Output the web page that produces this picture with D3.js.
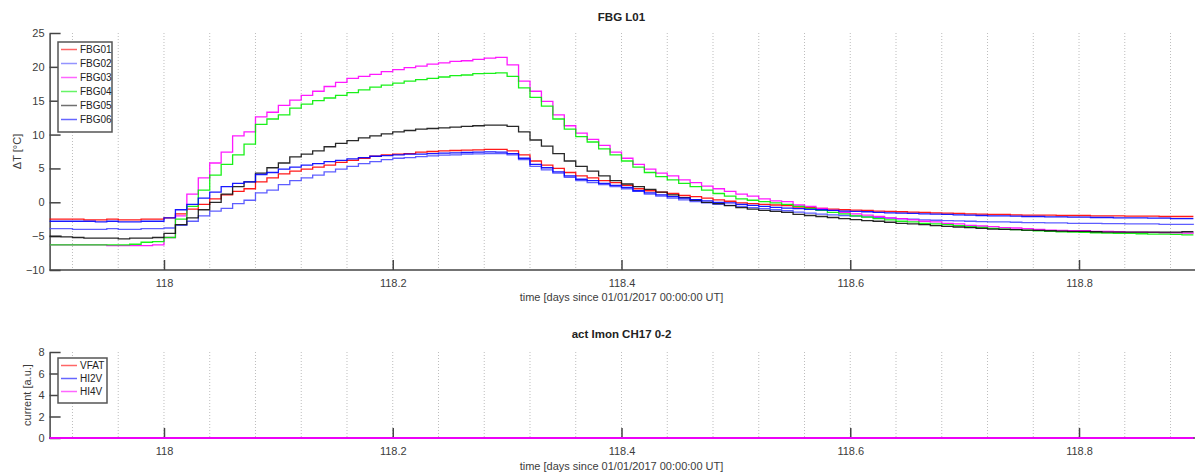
<!DOCTYPE html>
<html>
<head>
<meta charset="utf-8">
<script src="https://cdn.jsdelivr.net/npm/d3@7"></script>
<style>
  body { margin: 0; background: #fff; }
  svg { display: block; }
  text { font-family: "Liberation Sans", Arial, Helvetica, sans-serif; }
</style>
</head>
<body>
<svg id="chart" width="1195" height="474"></svg>
<script>
// ---------------- data ----------------
const tStart = 117.9, tStep = 0.01;           // sample times (days)
const seriesNames = ["FBG01", "FBG02", "FBG03", "FBG04", "FBG05", "FBG06"];
const seriesColors = ["#ff0000", "#4d4dff", "#ff00ff", "#00ee00", "#111111", "#0000ff"];

const FBG01 = [-2.5,-2.5,-2.5,-2.6,-2.6,-2.5,-2.6,-2.6,-2.5,-2.5,
  -2.3,-1.7,-1.0,-0.3,0.5,1.1,1.6,2.0,3.0,3.6,
  4.2,4.6,4.9,5.2,5.5,5.9,6.2,6.5,6.8,7.0,
  7.1,7.2,7.4,7.5,7.6,7.65,7.7,7.75,7.8,7.8,
  7.6,7.0,6.1,5.5,5.0,4.4,3.9,3.6,3.2,2.9,
  2.5,2.0,1.7,1.5,1.3,1.0,0.85,0.6,0.35,0.15,
  -0.1,-0.2,-0.3,-0.4,-0.5,-0.7,-0.8,-0.9,-1.0,-1.1,
  -1.15,-1.2,-1.3,-1.35,-1.4,-1.45,-1.5,-1.55,-1.6,-1.65,
  -1.7,-1.75,-1.8,-1.8,-1.85,-1.9,-1.9,-1.9,-1.95,-1.95,
  -1.95,-2.0,-2.0,-2.0,-2.05,-2.05,-2.05,-2.1,-2.1,-2.1,-2.1];

const FBG02 = [-3.9,-3.9,-4.0,-4.0,-4.0,-3.9,-4.0,-4.0,-3.9,-3.9,
  -3.8,-3.4,-2.8,-2.0,-1.3,-0.9,-0.2,0.3,1.4,1.8,
  2.6,3.2,3.6,4.0,4.5,4.9,5.3,5.7,6.0,6.3,
  6.5,6.6,6.75,6.85,6.95,7.0,7.1,7.15,7.2,7.2,
  7.0,6.3,5.3,4.8,4.3,3.7,3.2,2.9,2.6,2.3,
  2.0,1.6,1.2,0.9,0.6,0.35,0.1,-0.1,-0.3,-0.45,
  -0.6,-0.8,-0.95,-1.1,-1.25,-1.45,-1.6,-1.75,-1.85,-1.95,
  -2.05,-2.15,-2.25,-2.35,-2.45,-2.5,-2.6,-2.65,-2.7,-2.75,
  -2.8,-2.85,-2.9,-2.9,-2.95,-3.0,-3.0,-3.05,-3.05,-3.1,
  -3.1,-3.1,-3.15,-3.15,-3.2,-3.2,-3.2,-3.25,-3.25,-3.25,-3.3];

const FBG03 = [-6.3,-6.3,-6.3,-6.3,-6.3,-6.4,-6.4,-6.4,-6.4,-6.3,
  -5.2,-2.0,1.2,3.6,5.8,7.4,9.8,10.4,12.6,13.3,
  14.3,15.1,15.8,16.4,17.1,17.7,18.3,18.6,18.9,19.3,
  19.6,19.9,20.1,20.4,20.6,20.8,20.9,21.1,21.3,21.4,
  20.3,17.9,16.4,14.9,12.9,11.3,10.2,9.3,8.4,7.4,
  6.5,5.6,4.9,4.3,3.9,3.3,2.9,2.4,2.0,1.6,
  1.2,0.9,0.5,0.2,0.1,-0.4,-0.6,-0.9,-1.2,-1.5,
  -1.7,-1.9,-2.1,-2.3,-2.4,-2.6,-2.8,-2.9,-3.1,-3.2,
  -3.4,-3.5,-3.6,-3.75,-3.8,-3.9,-4.0,-4.1,-4.15,-4.2,
  -4.2,-4.3,-4.3,-4.35,-4.4,-4.4,-4.45,-4.5,-4.5,-4.55,-4.6];

const FBG04 = [-6.3,-6.3,-6.3,-6.3,-6.3,-6.3,-6.3,-6.2,-5.9,-5.8,
  -5.2,-2.5,-0.6,1.8,4.0,5.6,7.0,8.6,11.5,12.3,
  12.9,13.9,14.5,15.0,15.4,15.8,16.2,16.6,17.0,17.3,
  17.6,17.9,18.1,18.3,18.5,18.7,18.8,19.0,19.05,19.1,
  18.6,16.9,15.5,14.2,12.3,10.8,9.7,8.9,7.9,7.0,
  6.1,5.2,4.4,3.8,3.3,2.8,2.3,1.8,1.3,0.9,
  0.5,0.3,0.1,-0.1,-0.3,-0.6,-0.9,-1.2,-1.5,-1.7,
  -2.0,-2.2,-2.4,-2.6,-2.8,-2.9,-3.1,-3.2,-3.3,-3.45,
  -3.6,-3.7,-3.85,-3.95,-4.05,-4.15,-4.2,-4.3,-4.35,-4.4,
  -4.45,-4.5,-4.55,-4.6,-4.6,-4.65,-4.7,-4.7,-4.75,-4.8,-4.8];

const FBG05 = [-5.0,-5.1,-5.2,-5.3,-5.3,-5.3,-5.4,-5.3,-5.3,-5.2,
  -4.6,-3.3,-2.3,-1.1,0.0,1.2,2.3,3.0,4.3,5.1,
  5.8,6.7,7.1,7.6,8.2,8.7,9.1,9.5,9.8,10.1,
  10.4,10.6,10.8,10.9,11.0,11.1,11.2,11.3,11.4,11.4,
  11.2,10.4,9.2,8.3,7.2,6.1,5.3,4.6,3.9,3.2,
  2.7,2.3,1.9,1.5,1.1,0.7,0.3,0.0,-0.2,-0.5,
  -0.8,-1.0,-1.2,-1.35,-1.5,-1.8,-1.95,-2.1,-2.25,-2.4,
  -2.55,-2.7,-2.8,-2.95,-3.1,-3.2,-3.3,-3.45,-3.55,-3.65,
  -3.75,-3.85,-3.95,-4.0,-4.05,-4.1,-4.15,-4.2,-4.25,-4.3,
  -4.3,-4.35,-4.4,-4.4,-4.4,-4.4,-4.4,-4.4,-4.4,-4.35,-4.35];

const FBG06 = [-2.8,-2.8,-2.8,-2.8,-2.9,-2.8,-2.9,-2.9,-2.8,-2.8,
  -2.3,-1.1,-0.3,0.6,1.5,2.3,2.8,3.0,4.1,4.4,
  4.9,5.2,5.5,5.7,6.0,6.2,6.4,6.6,6.8,6.9,
  7.0,7.1,7.1,7.2,7.25,7.3,7.35,7.4,7.45,7.4,
  7.2,6.5,5.6,5.1,4.5,3.9,3.4,3.2,2.8,2.5,
  2.2,1.7,1.4,1.1,0.85,0.6,0.4,0.2,0.0,-0.1,
  -0.3,-0.45,-0.6,-0.75,-0.85,-0.95,-1.05,-1.1,-1.2,-1.3,
  -1.35,-1.4,-1.5,-1.55,-1.6,-1.65,-1.7,-1.75,-1.8,-1.85,
  -1.9,-1.95,-2.0,-2.0,-2.05,-2.1,-2.1,-2.15,-2.15,-2.2,
  -2.2,-2.25,-2.25,-2.3,-2.3,-2.3,-2.35,-2.35,-2.4,-2.4,-2.4];

const fbgValues = [FBG01, FBG02, FBG03, FBG04, FBG05, FBG06];

const currentNames = ["VFAT", "HI2V", "HI4V"];
const currentColors = ["#ff0000", "#0000ff", "#ff00ff"];
const currentTimes = [117.9, 118.9];
const VFAT = [0, 0];
const HI2V = [0, 0];
const HI4V = [0, 0];
const currentValues = [VFAT, HI2V, HI4V];

const xTicks = [118, 118.2, 118.4, 118.6, 118.8];
const xGrid = [117.92,117.96,118.0,118.04,118.08,118.12,118.16,118.2,118.24,118.28,118.32,118.36,118.4,118.44,118.48,118.52,118.56,118.6,118.64,118.68,118.72,118.76,118.8,118.84,118.88];
const yTicksTop = [-10, -5, 0, 5, 10, 15, 20, 25];
const yTicksBottom = [0, 2, 4, 6, 8];

// ---------------- drawing ----------------
const svg = d3.select("#chart");
const axisColor = "#444";
const labelColor = "#3c3c3c";

const x = d3.scaleLinear().domain([117.9, 118.9]).range([49.6, 1193.4]);

function panel(cfg) {
  const y = d3.scaleLinear().domain(cfg.yDomain).range([cfg.yBottom, cfg.yTop]);
  const g = svg.append("g");

  // grid
  g.selectAll("line.grid").data(xGrid).enter().append("line")
    .attr("x1", d => x(d)).attr("x2", d => x(d))
    .attr("y1", cfg.yTop).attr("y2", cfg.yBottom)
    .attr("stroke", "#bdbdbd").attr("stroke-width", 1)
    .attr("stroke-dasharray", "1,2");

  // x axis (ticks inside)
  const xAxis = d3.axisBottom(x).tickValues(xTicks).tickSizeInner(-10).tickSizeOuter(0)
    .tickPadding(9).tickFormat(d3.format("~g"));
  const gx = g.append("g").attr("transform", `translate(0,${cfg.yBottom})`).call(xAxis);
  gx.select(".domain").attr("stroke", axisColor).attr("stroke-width", 1.5)
    .attr("d", `M${x.range()[0]},0H1195`);
  gx.selectAll(".tick line").attr("stroke", axisColor).attr("stroke-width", 1.5);
  gx.selectAll(".tick text").attr("fill", labelColor).style("font-size", "11px")
    .style("font-family", "Liberation Sans, Arial, sans-serif");

  // y axis (ticks inside)
  const yAxis = d3.axisLeft(y).tickValues(cfg.yTicks).tickSizeInner(-11).tickSizeOuter(0)
    .tickPadding(5);
  const gy = g.append("g").attr("transform", `translate(${x.range()[0]},0)`).call(yAxis);
  gy.select(".domain").attr("stroke", axisColor).attr("stroke-width", 1.5);
  gy.selectAll(".tick line").attr("stroke", axisColor).attr("stroke-width", 1.5);
  gy.selectAll(".tick text").attr("fill", labelColor).style("font-size", "11px")
    .style("font-family", "Liberation Sans, Arial, sans-serif");

  // lines
  const line = d3.line().x(d => x(d[0])).y(d => y(d[1])).curve(cfg.curve);
  cfg.values.forEach((vals, i) => {
    const pts = vals.map((v, j) => [cfg.times[j], v]);
    g.append("path").attr("d", line(pts)).attr("fill", "none")
      .attr("stroke", cfg.colors[i]).attr("stroke-width", cfg.widths ? cfg.widths[i] : 1.3)
      .attr("stroke-opacity", 0.9);
  });

  // title
  svg.append("text").attr("x", (x.range()[0] + x.range()[1]) / 2).attr("y", cfg.titleY)
    .attr("text-anchor", "middle").attr("font-weight", "bold").attr("font-size", "11.5px")
    .attr("fill", "#222").text(cfg.title);
  // x label
  svg.append("text").attr("x", (x.range()[0] + x.range()[1]) / 2).attr("y", cfg.xLabelY)
    .attr("text-anchor", "middle").attr("font-size", "11px").attr("fill", labelColor)
    .text("time [days since 01/01/2017 00:00:00 UT]");
  // y label
  svg.append("text").attr("transform", `translate(${cfg.yLabelX},${(cfg.yTop + cfg.yBottom) / 2}) rotate(-90)`)
    .attr("text-anchor", "middle").attr("font-size", "11px").attr("fill", labelColor)
    .text(cfg.yLabel);

  // legend
  const lg = svg.append("g");
  const n = cfg.names.length;
  lg.append("rect").attr("x", 58).attr("y", cfg.legendY)
    .attr("width", cfg.legendW).attr("height", cfg.legendStep * n + 6)
    .attr("fill", "#fff").attr("stroke", "#555").attr("stroke-width", 1.5);
  cfg.names.forEach((nm, i) => {
    const cy = cfg.legendY + 7.5 + i * cfg.legendStep;
    lg.append("line").attr("x1", 61).attr("x2", 77).attr("y1", cy).attr("y2", cy)
      .attr("stroke", cfg.colors[i]).attr("stroke-width", 1.5).attr("stroke-opacity", 0.6);
    lg.append("text").attr("x", 80).attr("y", cy + 3.6).attr("font-size", "10px")
      .attr("fill", "#222").text(nm);
  });
}

panel({
  yDomain: [-10, 25], yTop: 33, yBottom: 270, yTicks: yTicksTop,
  times: fbgValues[0].map((_, i) => tStart + i * tStep),
  values: fbgValues, colors: seriesColors, names: seriesNames,
  curve: d3.curveStepAfter,
  title: "FBG L01", titleY: 21, xLabelY: 301, yLabelX: 21, yLabel: "\u0394T [\u00b0C]",
  legendY: 42, legendW: 54, legendStep: 14
});

panel({
  yDomain: [0, 8], yTop: 352, yBottom: 438, yTicks: yTicksBottom,
  times: currentTimes, values: currentValues, colors: currentColors, names: currentNames,
  widths: [1.5, 1.5, 2.2],
  curve: d3.curveLinear,
  title: "act Imon CH17 0-2", titleY: 338, xLabelY: 470, yLabelX: 31, yLabel: "current [a.u.]",
  legendY: 358, legendW: 49, legendStep: 13
});
</script>
</body>
</html>
